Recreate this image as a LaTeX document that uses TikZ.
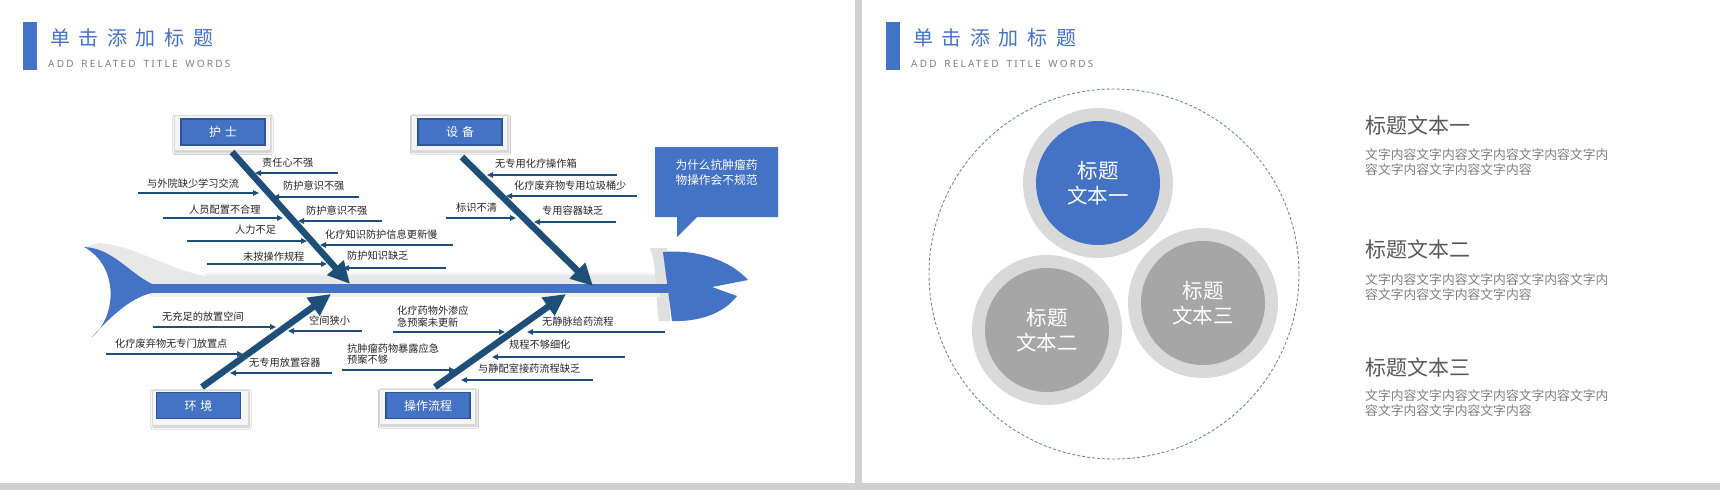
\documentclass[tikz,border=0pt]{standalone}
\usepackage{fontspec}
\setmainfont{Noto Sans}
\newfontfamily\cjk{Noto Sans CJK SC}
\newfontfamily\cjktitle[LetterSpace=43]{Noto Sans CJK SC}
\newfontfamily\subfont[LetterSpace=22]{Noto Sans}
\usetikzlibrary{arrows.meta,shadows.blur}
\definecolor{fishblue}{HTML}{4472C4}
\definecolor{navy}{HTML}{1F4E79}
\definecolor{ringgray}{HTML}{D9D9D9}
\definecolor{midgray}{HTML}{A6A6A6}
\definecolor{divgray}{HTML}{D0D0D0}
\definecolor{txtgray}{HTML}{595959}
\definecolor{bodygray}{HTML}{7F7F7F}
\definecolor{dashblue}{HTML}{7586AA}
\definecolor{boxedge}{HTML}{2F5597}
\begin{document}
\begin{tikzpicture}[x=1pt,y=-1pt,
  lbl/.style={font=\cjk\fontsize{10.2}{11.5}\selectfont, inner sep=0pt, text=black!85, anchor=west, align=left},
  subarr/.style={draw=navy, line width=1.6pt, -{Triangle[length=6pt,width=5.5pt]}},
  bonearr/.style={draw=navy, line width=6.5pt, -{Triangle[length=22pt,width=21pt]}},
  catframe/.style={fill=black!4, draw=black!15, line width=0.8pt, minimum width=96pt, minimum height=35pt, inner sep=0pt,
     blur shadow={shadow blur steps=6, shadow xshift=1pt, shadow yshift=-2pt, shadow opacity=25}},
  catbox/.style={fill=fishblue, draw=boxedge, line width=1.5pt, minimum width=84pt, minimum height=26pt, inner sep=0pt,
     text=white, font=\cjk\fontsize{12}{14}\selectfont},
  titl/.style={anchor=west, inner sep=0pt, text=fishblue, font=\cjktitle\fontsize{20}{24}\selectfont},
  subt/.style={anchor=base west, inner sep=0pt, text=bodygray, font=\subfont\fontsize{10}{12}\selectfont},
  callt/.style={inner sep=0pt, text=white, align=center, font=\cjk\fontsize{11.7}{15}\selectfont},
  ringc/.style={circle, fill=ringgray, minimum size=150pt, inner sep=0pt},
  ctext/.style={circle, minimum size=124pt, inner sep=0pt, text=white, align=center, font=\cjk\fontsize{20.5}{25}\selectfont},
  rhead/.style={anchor=west, inner sep=0pt, text=txtgray, font=\cjk\fontsize{21}{24}\selectfont},
  rbody/.style={anchor=west, inner sep=0pt, text=bodygray, align=left, font=\cjk\fontsize{12.8}{15}\selectfont}
]
\useasboundingbox (0,0) rectangle (1720,490);
\fill[white] (0,0) rectangle (1720,490);
\fill[divgray] (855,0) rectangle (862,490);
\fill[divgray] (0,483) rectangle (1720,490);

% ---------- headers ----------
\fill[fishblue] (23,22) rectangle (37,70);
\node[titl] (t1) at (50,38) {单击添加标题};
\node[subt] (s1) at (48,67) {ADD\hspace{3pt} RELATED\hspace{3pt} TITLE\hspace{3pt} WORDS};
\fill[fishblue] (886,22) rectangle (900,70);
\node[titl] (t2) at (913,38) {单击添加标题};
\node[subt] (s2) at (911,67) {ADD\hspace{3pt} RELATED\hspace{3pt} TITLE\hspace{3pt} WORDS};

% ---------- fish body ----------
\fill[black!9] (100,243) .. controls (135,246) and (165,268) .. (205,276) -- (660,276) -- (660,284) -- (150,284) .. controls (125,270) and (110,248) .. (84,247) -- cycle;
\shade[top color=white, bottom color=black!11] (205,271) rectangle (660,277);
\fill[black!12] (650,248) -- (667,248) -- (670,321) -- (659,321) .. controls (655,300) and (657,262) .. (650,248) -- cycle;
\fill[black!6] (150,293) rectangle (660,297);
\fill[fishblue] (84,247) .. controls (112,248) and (128,272) .. (152,284) -- (152,293) .. controls (128,298) and (106,322) .. (92,337) .. controls (118,315) and (118,265) .. (84,247) -- cycle;
\fill[fishblue] (145,284) rectangle (668,293);
\fill[fishblue] (663,252) .. controls (700,249) and (732,262) .. (748,280) -- (712,287) -- (737,296) .. controls (724,313) and (700,322) .. (672,321) -- cycle;

% ---------- callout ----------
\fill[fishblue] (655,147) -- (778,147) -- (778,217) -- (697,217) -- (677,237) -- (677,217) -- (655,217) -- cycle;
\node[callt] (q) at (716.5,172.5) {为什么抗肿瘤药\\物操作会不规范};

% ---------- category boxes ----------
\node[catframe] (hushiF) at (222,133) {};
\node[catbox] (hushi) at (223,132) {护\hspace{4pt}士};
\node[catframe] (shebeiF) at (459.5,132.5) {};
\node[catbox] (shebei) at (460,132) {设\hspace{4pt}备};
\node[catframe] (huanjingF) at (200,407.5) {};
\node[catbox] (huanjing) at (198.5,405.5) {环\hspace{4pt}境};
\node[catframe] (caozuoF) at (427.5,406.5) {};
\node[catbox] (caozuo) at (428,405.5) {操作流程};

% ---------- main bones ----------
\coordinate (hsS) at (232,152); \coordinate (hsT) at (350,284);
\coordinate (sbS) at (462,157); \coordinate (sbT) at (593,286);
\coordinate (hjS) at (202,387); \coordinate (hjT) at (331,294);
\coordinate (czS) at (435,387); \coordinate (czT) at (566,294);
\draw[bonearr] (hsS) -- (hsT);
\draw[bonearr] (sbS) -- (sbT);
\draw[bonearr] (hjS) -- (hjT);
\draw[bonearr] (czS) -- (czT);

% ---------- nurse causes ----------
\draw[subarr] (338,173) coordinate (a1s) -- (255,173) coordinate (a1e);
\node[lbl] (la1) at (262,163) {责任心不强};
\draw[subarr] (138,193) coordinate (a2s) -- (259,193) coordinate (a2e);
\node[lbl] (la2) at (147,184) {与外院缺少学习交流};
\draw[subarr] (359,197) coordinate (a3s) -- (273,197) coordinate (a3e);
\node[lbl] (la3) at (283,186) {防护意识不强};
\draw[subarr] (163,218) coordinate (a4s) -- (283,218) coordinate (a4e);
\node[lbl] (la4) at (189,210) {人员配置不合理};
\draw[subarr] (382,221) coordinate (a5s) -- (298,221) coordinate (a5e);
\node[lbl] (la5) at (306,211) {防护意识不强};
\draw[subarr] (187,241) coordinate (a6s) -- (307,241) coordinate (a6e);
\node[lbl] (la6) at (235,230) {人力不足};
\draw[subarr] (453,245) coordinate (a7s) -- (320,245) coordinate (a7e);
\node[lbl] (la7) at (325,235) {化疗知识防护信息更新慢};
\draw[subarr] (207,264) coordinate (a8s) -- (327,264) coordinate (a8e);
\node[lbl] (la8) at (243,257) {未按操作规程};
\draw[subarr] (446,268) coordinate (a9s) -- (343,268) coordinate (a9e);
\node[lbl] (la9) at (347,256) {防护知识缺乏};

% ---------- equipment causes ----------
\draw[subarr] (617,175) coordinate (b1s) -- (487,175) coordinate (b1e);
\node[lbl] (lb1) at (495,164) {无专用化疗操作箱};
\draw[subarr] (637,196) coordinate (b2s) -- (506,196) coordinate (b2e);
\node[lbl] (lb2) at (514,186) {化疗废弃物专用垃圾桶少};
\draw[subarr] (446,218) coordinate (b3s) -- (516,218) coordinate (b3e);
\node[lbl] (lb3) at (456,208) {标识不清};
\draw[subarr] (616,222) coordinate (b4s) -- (534,222) coordinate (b4e);
\node[lbl] (lb4) at (542,211) {专用容器缺乏};

% ---------- environment causes ----------
\draw[subarr] (153,327) coordinate (c1s) -- (276,327) coordinate (c1e);
\node[lbl] (lc1) at (162,317) {无充足的放置空间};
\draw[subarr] (362,331) coordinate (c2s) -- (288,331) coordinate (c2e);
\node[lbl] (lc2) at (309,321) {空间狭小};
\draw[subarr] (106,354) coordinate (c3s) -- (243,354) coordinate (c3e);
\node[lbl] (lc3) at (115,344) {化疗废弃物无专门放置点};
\draw[subarr] (332,373) coordinate (c4s) -- (230,373) coordinate (c4e);
\node[lbl] (lc4) at (249,363) {无专用放置容器};

% ---------- procedure causes ----------
\draw[subarr] (393,332) coordinate (d1s) -- (505,332) coordinate (d1e);
\node[lbl] (ld1) at (397,316.5) {化疗药物外渗应\\急预案未更新};
\draw[subarr] (665,332) coordinate (d2s) -- (527,332) coordinate (d2e);
\node[lbl] (ld2) at (542,322) {无静脉给药流程};
\draw[subarr] (342,370) coordinate (d3s) -- (455,370) coordinate (d3e);
\node[lbl] (ld3) at (347,354) {抗肿瘤药物暴露应急\\预案不够};
\draw[subarr] (625,357) coordinate (d4s) -- (492,357) coordinate (d4e);
\node[lbl] (ld4) at (509,345) {规程不够细化};
\draw[subarr] (593,380) coordinate (d5s) -- (461,380) coordinate (d5e);
\node[lbl] (ld5) at (478,369) {与静配室接药流程缺乏};

% ---------- right slide ----------
\node[circle, draw=dashblue, line width=0.9pt, dash pattern=on 3pt off 2pt, minimum size=370pt, inner sep=0pt] (big) at (1114,274) {};
\node[ringc] (r1) at (1098,183) {};
\node[ctext, fill=fishblue] (c1) at (1098,183) {标题\\文本一};
\node[ringc] (r2) at (1047,330) {};
\node[ctext, fill=midgray] (c2) at (1047,330) {标题\\文本二};
\node[ringc] (r3) at (1203,303) {};
\node[ctext, fill=midgray] (c3) at (1203,303) {标题\\文本三};

\node[rhead] (h1) at (1365,125) {标题文本一};
\node[rbody] (p1) at (1365,162.5) {文字内容文字内容文字内容文字内容文字内\\容文字内容文字内容文字内容};
\node[rhead] (h2) at (1365,249) {标题文本二};
\node[rbody] (p2) at (1365,287) {文字内容文字内容文字内容文字内容文字内\\容文字内容文字内容文字内容};
\node[rhead] (h3) at (1365,367) {标题文本三};
\node[rbody] (p3) at (1365,403.5) {文字内容文字内容文字内容文字内容文字内\\容文字内容文字内容文字内容};
\end{tikzpicture}
\end{document}
